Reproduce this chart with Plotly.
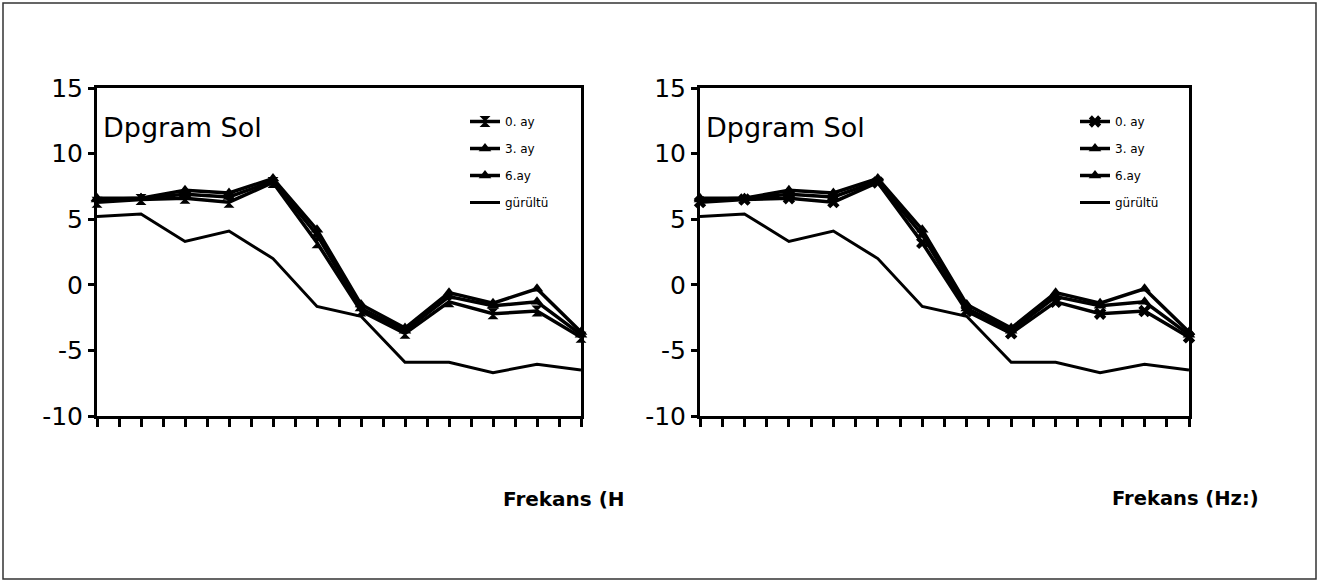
import plotly.graph_objects as go

# ---- data ----
freq_idx = list(range(12))
ay0 = [6.3, 6.5, 6.6, 6.3, 7.8, 3.2, -2.0, -3.7, -1.3, -2.2, -2.0, -4.0]
ay3 = [6.5, 6.6, 6.9, 6.7, 7.9, 3.8, -1.8, -3.5, -0.9, -1.6, -1.3, -3.8]
ay6 = [6.6, 6.6, 7.2, 7.0, 8.1, 4.2, -1.5, -3.3, -0.6, -1.4, -0.3, -3.6]
gurultu = [5.2, 5.4, 3.3, 4.1, 2.0, -1.65, -2.4, -5.9, -5.9, -6.7, -6.05, -6.5]
y_tickvals = [-10, -5, 0, 5, 10, 15]
y_ticktext = ["-10", "-5", "0", "5", "10", "15"]
series_names = ["0. ay", "3. ay", "6.ay", "gürültü"]
panel_title = "Dpgram Sol"
x_titles = ["Frekans (H", "Frekans (Hz:)"]

W, H = 1320, 583
FONT = "DejaVu Sans"

fig = go.Figure()

panels = [
    dict(xa="x", ya="y", legend="legend", sym0="hourglass"),
    dict(xa="x2", ya="y2", legend="legend2", sym0="x"),
]

for i, p in enumerate(panels):
    data = [(ay0, p["sym0"]), (ay3, "triangle-up"), (ay6, "triangle-up")]
    for k, (vals, sym) in enumerate(data):
        fig.add_trace(go.Scatter(
            x=freq_idx, y=vals, mode="lines+markers", name=series_names[k],
            line=dict(color="black", width=3.5),
            marker=dict(symbol=sym, size=11, color="black"),
            xaxis=p["xa"], yaxis=p["ya"], legend=p["legend"],
            legendgroup=f"g{i}{k}", cliponaxis=False,
        ))
    fig.add_trace(go.Scatter(
        x=freq_idx, y=gurultu, mode="lines", name=series_names[3],
        line=dict(color="black", width=3),
        xaxis=p["xa"], yaxis=p["ya"], legend=p["legend"],
        legendgroup=f"g{i}3",
    ))

ydom = [(H - 416) / H, (H - 88) / H]
xdoms = [[97 / W, 581 / W], [700 / W, 1189 / W]]

axis_common = dict(showline=True, linecolor="black", linewidth=3, mirror=True,
                   showgrid=False, zeroline=False, automargin=False)

for i, dom in enumerate(xdoms):
    xk = "xaxis" if i == 0 else "xaxis2"
    yk = "yaxis" if i == 0 else "yaxis2"
    fig.layout[xk] = dict(
        domain=dom, range=[0, 11], anchor="y" if i == 0 else "y2",
        tickmode="linear", tick0=0, dtick=0.5, ticks="outside", ticklen=8,
        tickwidth=2.5, tickcolor="black", showticklabels=False, **axis_common)
    fig.layout[yk] = dict(
        domain=ydom, range=[-10, 15], anchor="x" if i == 0 else "x2",
        tickmode="array", tickvals=y_tickvals, ticktext=y_ticktext,
        ticks="outside", ticklen=6, tickwidth=2.5, tickcolor="black",
        tickfont=dict(family=FONT, size=25, color="black"), **axis_common)

leg_common = dict(font=dict(family=FONT, size=12, color="black"),
                  bgcolor="rgba(0,0,0,0)", traceorder="grouped",
                  tracegroupgap=8, itemwidth=30, yanchor="top", xanchor="left")
fig.update_layout(
    legend=dict(x=465 / W, y=(H - 107) / H, **leg_common),
    legend2=dict(x=1075 / W, y=(H - 107) / H, **leg_common),
)

annotations = []
for i, dom in enumerate(xdoms):
    annotations.append(dict(text=panel_title, xref="paper", yref="paper",
                            x=(dom[0] * W + 4) / W, y=(H - 127) / H,
                            xanchor="left", yanchor="middle", showarrow=False,
                            font=dict(family=FONT, size=27, color="black")))
annotations.append(dict(text="<b>" + x_titles[0] + "</b>", xref="paper", yref="paper",
                        x=501 / W, y=(H - 499) / H, xanchor="left", yanchor="middle",
                        showarrow=False, font=dict(family=FONT, size=20, color="black")))
annotations.append(dict(text="<b>" + x_titles[1] + "</b>", xref="paper", yref="paper",
                        x=1110 / W, y=(H - 499) / H, xanchor="left", yanchor="middle",
                        showarrow=False, font=dict(family=FONT, size=19.5, color="black")))

fig.update_layout(
    width=W, height=H, margin=dict(l=0, r=0, t=0, b=0, autoexpand=False),
    paper_bgcolor="white", plot_bgcolor="white",
    annotations=annotations, showlegend=True,
    shapes=[dict(type="rect", xref="paper", yref="paper",
                 x0=3 / W, x1=1316 / W, y0=(H - 579) / H, y1=(H - 3) / H,
                 line=dict(color="#333", width=1.5))],
)

fig.write_html("out.html", config={"displayModeBar": False},
               post_script="document.body.style.margin='0';")
